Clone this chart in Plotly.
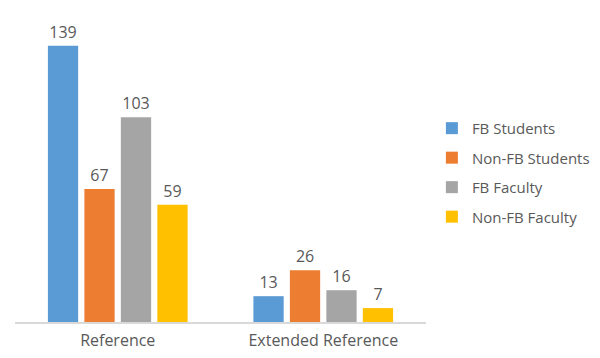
import plotly.graph_objects as go

categories = ["Reference", "Extended Reference"]
series_names = ["FB Students", "Non-FB Students", "FB Faculty", "Non-FB Faculty"]
fb_students = [139, 13]
non_fb_students = [67, 26]
fb_faculty = [103, 16]
non_fb_faculty = [59, 7]
colors = ["#5B9BD5", "#ED7D31", "#A5A5A5", "#FFC000"]

values = [fb_students, non_fb_students, fb_faculty, non_fb_faculty]
FONT = "Open Sans"
TXT = "#595959"

fig = go.Figure()
for i, (name, vals) in enumerate(zip(series_names, values)):
    fig.add_trace(go.Bar(
        x=categories, y=vals, name=name,
        marker=dict(color=colors[i], line=dict(width=0)),
        text=[str(v) for v in vals], textposition="outside",
        textfont=dict(family=FONT, size=16, color=TXT),
        cliponaxis=False, legendgroup=f"g{i}",
    ))

fig.update_layout(
    width=600, height=358,
    margin=dict(l=7, r=0, t=16, b=44, autoexpand=False),
    paper_bgcolor="white", plot_bgcolor="white",
    barmode="group", bargap=0.29, bargroupgap=0.17,
    font=dict(family=FONT, color=TXT),
    showlegend=True,
    legend=dict(
        x=0.703, xanchor="left", y=0.705, yanchor="top",
        font=dict(family=FONT, size=15, color=TXT),
        tracegroupgap=7, itemwidth=30, bgcolor="rgba(0,0,0,0)",
    ),
    xaxis=dict(
        domain=[0, 0.6931], automargin=False,
        showline=True, linecolor="#D9D9D9", linewidth=1.5,
        showgrid=False, ticks="", ticklabelstandoff=3,
        tickfont=dict(family=FONT, size=16, color=TXT),
    ),
    yaxis=dict(range=[0, 150], visible=False, showgrid=False, zeroline=False,
               automargin=False),
)

fig.write_html("out.html")
